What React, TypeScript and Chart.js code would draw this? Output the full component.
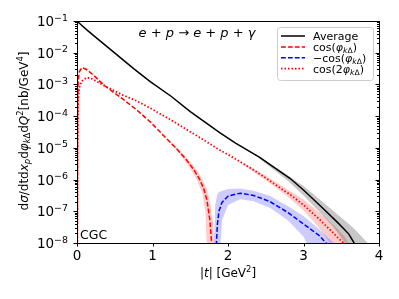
import React, { useEffect, useRef } from 'react';
import { Chart, registerables } from 'chart.js';
Chart.register(...registerables);

// ---- data: |t| [GeV^2] and cross sections [nb/GeV^4] ----
const avgT = [0, 0.05, 0.13, 0.265, 0.53, 0.75, 0.97, 1.25, 1.5, 1.7, 1.89, 2.1, 2.42, 2.6, 2.82, 3.0, 3.26, 3.45, 3.53, 3.6, 3.66, 3.68];
const avgV = [1.0e-1, 7.76e-2, 5.25e-2, 2.82e-2, 8.51e-3, 3.16e-3, 1.23e-3, 4.17e-4, 1.38e-4, 6.31e-5, 3.02e-5, 1.41e-5, 5.01e-6, 2.51e-6, 1.1e-6, 4.68e-7, 1.23e-7, 4.47e-8, 2.88e-8, 1.91e-8, 1.1e-8, 8.9e-9];

const cosT = [0.004, 0.008, 0.015, 0.03, 0.066, 0.12, 0.2, 0.37, 0.6, 0.79, 0.97, 1.19, 1.3, 1.45, 1.55, 1.63, 1.68, 1.72, 1.76, 1.78, 1.79];
const cosV = [3.16e-9, 1e-4, 1.26e-3, 2.51e-3, 3.39e-3, 3.02e-3, 2.14e-3, 8.91e-4, 3.55e-4, 1.58e-4, 6.61e-5, 1.91e-5, 1.05e-5, 4.17e-6, 2.0e-6, 9.55e-7, 5.01e-7, 2.29e-7, 5.25e-8, 1.26e-8, 5.0e-9];

const negCosT = [1.84, 1.86, 1.88, 1.92, 2.0, 2.16, 2.34, 2.56, 2.8, 3.0, 3.2, 3.3, 3.32];
const negCosV = [5.01e-9, 3.98e-8, 1.0e-7, 1.91e-7, 3.02e-7, 3.72e-7, 3.16e-7, 2.0e-7, 8.91e-8, 3.98e-8, 1.78e-8, 1.0e-8, 7.94e-9];

const cos2T = [0.004, 0.008, 0.015, 0.03, 0.06, 0.13, 0.2, 0.37, 0.6, 0.79, 0.97, 1.23, 1.45, 1.67, 1.89, 2.03, 2.34, 2.5, 2.73, 2.82, 3.0, 3.2, 3.35, 3.45, 3.53, 3.56];
const cos2V = [3.16e-9, 1e-5, 3.16e-4, 7.94e-4, 1.26e-3, 1.66e-3, 1.51e-3, 8.91e-4, 4.68e-4, 3.02e-4, 1.78e-4, 7.94e-5, 3.8e-5, 1.82e-5, 8.51e-6, 5.62e-6, 2.0e-6, 1.12e-6, 4.68e-7, 3.39e-7, 1.58e-7, 5.89e-8, 2.63e-8, 1.51e-8, 1.0e-8, 7.94e-9];

// uncertainty bands
const avgBandT = [2.4, 2.6, 2.8, 3.0, 3.2, 3.4, 3.55, 3.65, 3.75, 3.85, 3.9];
const avgBandHi = [5.62e-6, 2.75e-6, 1.32e-6, 6.31e-7, 2.51e-7, 1.0e-7, 5.01e-8, 3.16e-8, 1.78e-8, 1.0e-8, 6.31e-9];
const avgBandLo = [4.9e-6, 2.09e-6, 8.91e-7, 3.16e-7, 1.0e-7, 3.16e-8, 1.0e-8, 3.16e-9, 1e-9, 1e-9, 1e-9];

const cosBandT = [1.2, 1.3, 1.4, 1.5, 1.6, 1.66, 1.7, 1.72, 1.76, 1.8, 1.83];
const cosBandHi = [1.91e-5, 1.15e-5, 6.61e-6, 3.55e-6, 1.78e-6, 1.0e-6, 6.31e-7, 5.01e-7, 2.0e-7, 5.01e-8, 6.31e-9];
const cosBandLo = [1.74e-5, 9.55e-6, 4.79e-6, 2.19e-6, 8.32e-7, 3.55e-7, 1.0e-7, 6.31e-9, 1e-9, 1e-9, 1e-9];

const negBandT = [1.81, 1.83, 1.86, 1.88, 1.92, 2.0, 2.16, 2.34, 2.56, 2.8, 3.0, 3.05, 3.2, 3.4, 3.45];
const negBandHi = [5.01e-9, 1.58e-7, 3.55e-7, 3.98e-7, 4.37e-7, 5.01e-7, 5.25e-7, 4.47e-7, 3.02e-7, 1.41e-7, 7.08e-8, 5.62e-8, 2.82e-8, 1e-8, 6.31e-9];
const negBandLo = [1e-9, 1e-9, 1e-9, 1e-9, 5.01e-8, 1.58e-7, 2.4e-7, 2.09e-7, 1.26e-7, 5.01e-8, 1.58e-8, 8.91e-9, 1e-9, 1e-9, 1e-9];

const cos2BandT = [2.2, 2.5, 2.8, 3.0, 3.2, 3.35, 3.45, 3.55, 3.62];
const cos2BandHi = [3.39e-6, 1.32e-6, 4.68e-7, 2.34e-7, 9.55e-8, 4.68e-8, 2.82e-8, 1.51e-8, 7.94e-9];
const cos2BandLo = [2.95e-6, 9.55e-7, 2.75e-7, 1.05e-7, 3.16e-8, 1.0e-8, 3.16e-9, 1e-9, 1e-9];

const xTicks = [0, 1, 2, 3, 4];
const yExps = [-1, -2, -3, -4, -5, -6, -7, -8];

const FAM = '"DejaVu Sans"';
type Piece = [string, string];

const DASHED = [4.8, 2.1];
const DOTTED = [1.5, 2.0];

function fontFor(kind: string, size: number) {
  const small = size * 0.7;
  switch (kind) {
    case 'i': return `italic ${size}px ${FAM}`;
    case 'sub':
    case 'sup': return `${small}px ${FAM}`;
    case 'subi':
    case 'supi': return `italic ${small}px ${FAM}`;
    default: return `${size}px ${FAM}`;
  }
}
function richWidth(ctx: CanvasRenderingContext2D, pieces: Piece[], size: number) {
  let w = 0;
  for (const [s, k] of pieces) { ctx.font = fontFor(k, size); w += ctx.measureText(s).width; }
  return w;
}
function drawRich(ctx: CanvasRenderingContext2D, pieces: Piece[], x: number, y: number, size: number) {
  let cx = x;
  for (const [s, k] of pieces) {
    ctx.font = fontFor(k, size);
    const dy = k.startsWith('sub') ? size * 0.22 : k.startsWith('sup') ? -size * 0.4 : 0;
    ctx.fillText(s, cx, y + dy);
    cx += ctx.measureText(s).width;
  }
}

const pts = (t: number[], v: number[]) => t.map((x, i) => ({ x, y: v[i] }));

const legendItems: { pieces: Piece[]; color: string; dash: number[]; width: number }[] = [
  { pieces: [['Average', 'n']], color: '#000000', dash: [], width: 1.5 },
  { pieces: [['cos(', 'n'], ['φ', 'i'], ['k', 'subi'], ['Δ', 'sub'], [')', 'n']], color: '#ff0000', dash: DASHED, width: 1.5 },
  { pieces: [['−cos(', 'n'], ['φ', 'i'], ['k', 'subi'], ['Δ', 'sub'], [')', 'n']], color: '#0000ff', dash: DASHED, width: 1.5 },
  { pieces: [['cos(2', 'n'], ['φ', 'i'], ['k', 'subi'], ['Δ', 'sub'], [')', 'n']], color: '#ff0000', dash: DOTTED, width: 1.8 },
];

const decor = {
  id: 'decor',
  afterDraw(chart: any) {
    const ctx: CanvasRenderingContext2D = chart.ctx;
    const { left, right, top, bottom } = chart.chartArea;
    const xs = chart.scales.x;
    const ys = chart.scales.y;
    ctx.save();
    ctx.strokeStyle = '#000';
    ctx.fillStyle = '#000';
    ctx.lineWidth = 1;
    ctx.setLineDash([]);
    // frame
    ctx.strokeRect(Math.round(left) + 0.5, Math.round(top) + 0.5, Math.round(right - left), Math.round(bottom - top));
    // y ticks
    ctx.beginPath();
    for (const e of yExps) {
      const y = Math.round(ys.getPixelForValue(Math.pow(10, e))) + 0.5;
      ctx.moveTo(left - 3.5, y); ctx.lineTo(left, y);
      ctx.moveTo(right - 3.5, y); ctx.lineTo(right, y);
      if (e < -1) {
        for (let m = 2; m <= 9; m++) {
          const ym = Math.round(ys.getPixelForValue(m * Math.pow(10, e))) + 0.5;
          ctx.moveTo(left - 2, ym); ctx.lineTo(left + 0.5, ym);
          ctx.moveTo(right - 2, ym); ctx.lineTo(right, ym);
        }
      }
    }
    for (const v of xTicks) {
      const x = Math.round(xs.getPixelForValue(v)) + 0.5;
      ctx.moveTo(x, bottom); ctx.lineTo(x, bottom + 3.5);
    }
    ctx.stroke();
    // x tick labels
    ctx.textBaseline = 'alphabetic';
    ctx.textAlign = 'center';
    ctx.font = `13.5px ${FAM}`;
    for (const v of xTicks) ctx.fillText(String(v), xs.getPixelForValue(v), bottom + 17);
    // y tick labels
    ctx.textAlign = 'left';
    for (const e of yExps) {
      const y = ys.getPixelForValue(Math.pow(10, e));
      const pieces: Piece[] = [['10', 'n'], ['−' + String(-e), 'sup']];
      const w = richWidth(ctx, pieces, 13.5);
      drawRich(ctx, pieces, 68 - w, y + 5, 13.5);
    }
    // x title
    const xt: Piece[] = [['|', 'n'], ['t', 'i'], ['| [GeV', 'n'], ['2', 'sup'], [']', 'n']];
    const xw = richWidth(ctx, xt, 12);
    drawRich(ctx, xt, (left + right) / 2 - xw / 2, 277, 12);
    // y title
    const yt: Piece[] = [['d', 'n'], ['σ', 'i'], ['/dtd', 'n'], ['x', 'i'], ['p', 'subi'], ['d', 'n'], ['φ', 'i'], ['k', 'subi'], ['Δ', 'sub'], ['d', 'n'], ['Q', 'i'], ['2', 'sup'], ['[nb/GeV', 'n'], ['4', 'sup'], [']', 'n']];
    const yw = richWidth(ctx, yt, 12);
    ctx.save();
    ctx.translate(27.5, 131);
    ctx.rotate(-Math.PI / 2);
    drawRich(ctx, yt, -yw / 2, 0, 12);
    ctx.restore();
    // reaction label
    const rt: Piece[] = [['e', 'i'], [' + ', 'n'], ['p', 'i'], [' → ', 'n'], ['e', 'i'], [' + ', 'n'], ['p', 'i'], [' + ', 'n'], ['γ', 'i']];
    const rw = richWidth(ctx, rt, 13);
    drawRich(ctx, rt, 197 - rw / 2, 36.5, 13);
    // CGC
    ctx.font = `12.5px ${FAM}`;
    ctx.fillText('CGC', left + 3, bottom - 4);
    // legend
    ctx.beginPath();
    (ctx as any).roundRect(277.5, 27.5, 96, 53, 3);
    ctx.fillStyle = 'rgba(255,255,255,0.8)';
    ctx.fill();
    ctx.strokeStyle = '#cccccc';
    ctx.lineWidth = 1;
    ctx.stroke();
    legendItems.forEach((it, i) => {
      const y = 36 + i * 10.9;
      ctx.beginPath();
      ctx.strokeStyle = it.color;
      ctx.lineWidth = it.width;
      ctx.setLineDash(it.dash);
      ctx.moveTo(281, y); ctx.lineTo(305, y);
      ctx.stroke();
      ctx.setLineDash([]);
      ctx.fillStyle = '#000';
      drawRich(ctx, it.pieces, 313, y + 4, 11);
    });
    ctx.restore();
  },
};

export default function App() {
  const ref = useRef<HTMLCanvasElement>(null);
  useEffect(() => {
    const canvas = ref.current;
    if (!canvas) return;
    const none = 'rgba(0,0,0,0)';
    const band = (t: number[], lo: number[], hi: number[], color: string) => [
      { data: pts(t, lo), borderColor: none, borderWidth: 1, pointRadius: 0, fill: false, order: 2 },
      { data: pts(t, hi), borderColor: none, borderWidth: 1, pointRadius: 0, fill: '-1', backgroundColor: color, order: 2 },
    ];
    const chart = new Chart(canvas, {
      type: 'line',
      data: {
        datasets: [
          ...band(avgBandT, avgBandLo, avgBandHi, 'rgba(0,0,0,0.22)'),
          ...band(cosBandT, cosBandLo, cosBandHi, 'rgba(255,0,0,0.2)'),
          ...band(negBandT, negBandLo, negBandHi, 'rgba(0,0,255,0.2)'),
          ...band(cos2BandT, cos2BandLo, cos2BandHi, 'rgba(255,0,0,0.2)'),
          { label: 'Average', data: pts(avgT, avgV), borderColor: '#000000', borderWidth: 1.5, pointRadius: 0, fill: false, order: 0 },
          { label: 'cos', data: pts(cosT, cosV), borderColor: '#ff0000', borderWidth: 1.5, borderDash: DASHED, pointRadius: 0, fill: false, order: 0 },
          { label: '-cos', data: pts(negCosT, negCosV), borderColor: '#0000ff', borderWidth: 1.5, borderDash: DASHED, pointRadius: 0, fill: false, order: 0 },
          { label: 'cos2', data: pts(cos2T, cos2V), borderColor: '#ff0000', borderWidth: 1.8, borderDash: DOTTED, pointRadius: 0, fill: false, order: 0 },
        ] as any,
      },
      options: {
        responsive: false,
        animation: false,
        devicePixelRatio: 1,
        layout: { padding: { top: 21, right: 20, left: 0, bottom: 0 } },
        plugins: { legend: { display: false }, tooltip: { enabled: false } },
        elements: { line: { tension: 0 }, point: { radius: 0 } },
        scales: {
          x: {
            type: 'linear', min: 0, max: 4,
            ticks: { display: false }, grid: { display: false }, border: { display: false },
            afterFit: (s: any) => { s.height = 56; },
          },
          y: {
            type: 'logarithmic', min: 1e-8, max: 1e-1,
            ticks: { display: false }, grid: { display: false }, border: { display: false },
            afterFit: (s: any) => { s.width = 77; },
          },
        },
      } as any,
      plugins: [decor],
    });
    return () => chart.destroy();
  }, []);
  return (
    <div style={{ position: 'fixed', left: 0, top: 0, width: 399, height: 299, background: '#ffffff' }}>
      <canvas ref={ref} width={399} height={299} style={{ width: 399, height: 299, display: 'block' }} />
    </div>
  );
}
